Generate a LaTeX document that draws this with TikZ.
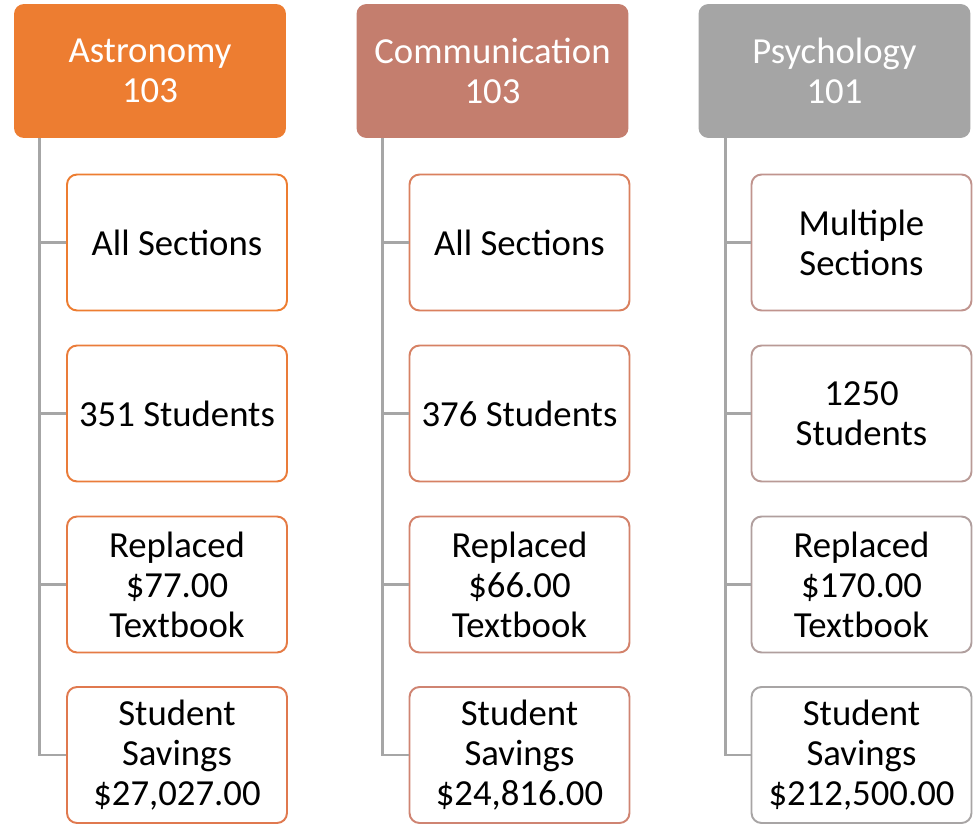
\documentclass[tikz,border=0pt]{standalone}
\usepackage{fontspec}
\setmainfont{Carlito}
\usepackage{tikz}
\usetikzlibrary{positioning, calc}

% header fills and child outlines
\definecolor{astrofill}{HTML}{ED7D31}
\definecolor{commfill}{HTML}{C47E6E}
\definecolor{psychfill}{HTML}{A5A5A5}
\definecolor{linegrey}{HTML}{A6A6A6}
\definecolor{ao1}{HTML}{ED7D31}
\definecolor{ao2}{HTML}{EA7C3A}
\definecolor{ao3}{HTML}{E57B45}
\definecolor{ao4}{HTML}{E0794F}
\definecolor{co1}{HTML}{DA805E}
\definecolor{co2}{HTML}{D68164}
\definecolor{co3}{HTML}{D3826B}
\definecolor{co4}{HTML}{CF8472}
\definecolor{po1}{HTML}{C0948E}
\definecolor{po2}{HTML}{B99A96}
\definecolor{po3}{HTML}{B09F9E}
\definecolor{po4}{HTML}{A8A5A5}

\begin{document}
\begin{tikzpicture}[x=0.02cm, y=-0.02cm,
    font=\fontsize{20.9}{22.8}\selectfont,
    header/.style={rounded corners=0.2cm, text=white, align=center,
        minimum width=5.44cm, minimum height=2.68cm, inner sep=0pt},
    item/.style={draw, line width=1.1pt, rounded corners=0.2cm, fill=white,
        align=center, minimum width=4.4cm, minimum height=2.72cm, inner sep=0pt},
    branch/.style={draw=linegrey, line width=1.6pt}]
    \useasboundingbox (0,0) rectangle (977,824);

    % headers
    \node[header, fill=astrofill] (astro) at (150,71) {Astronomy\\103};
    \node[header, fill=commfill] (comm) at (492.5,71) {Communication\\103};
    \node[header, fill=psychfill] (psych) at (834.5,71) {Psychology\\101};

    % Astronomy column
    \node[item, draw=ao1] (a1) at (177,242.5) {All Sections};
    \node[item, draw=ao2] (a2) at (177,413.5) {351 Students};
    \node[item, draw=ao3] (a3) at (177,584.5) {Replaced\\\$77.00\\Textbook};
    \node[item, draw=ao4] (a4) at (177,755) {Student\\Savings\\\$27,027.00};

    % Communication column
    \node[item, draw=co1] (c1) at (519.5,242.5) {All Sections};
    \node[item, draw=co2] (c2) at (519.5,413.5) {376 Students};
    \node[item, draw=co3] (c3) at (519.5,584.5) {Replaced\\\$66.00\\Textbook};
    \node[item, draw=co4] (c4) at (519.5,755) {Student\\Savings\\\$24,816.00};

    % Psychology column
    \node[item, draw=po1] (p1) at (861.5,242.5) {Multiple\\Sections};
    \node[item, draw=po2] (p2) at (861.5,413.5) {1250\\Students};
    \node[item, draw=po3] (p3) at (861.5,584.5) {Replaced\\\$170.00\\Textbook};
    \node[item, draw=po4] (p4) at (861.5,755) {Student\\Savings\\\$212,500.00};

    % spines
    \coordinate (astrotop) at ($(astro.south west)+(26,0)$);
    \coordinate (commtop) at ($(comm.south west)+(26,0)$);
    \coordinate (psychtop) at ($(psych.south west)+(27,0)$);

    \draw[branch] (astrotop) |- (a4.west);
    \draw[branch] (a1.west) -- (a1.west -| astrotop);
    \draw[branch] (a2.west) -- (a2.west -| astrotop);
    \draw[branch] (a3.west) -- (a3.west -| astrotop);

    \draw[branch] (commtop) |- (c4.west);
    \draw[branch] (c1.west) -- (c1.west -| commtop);
    \draw[branch] (c2.west) -- (c2.west -| commtop);
    \draw[branch] (c3.west) -- (c3.west -| commtop);

    \draw[branch] (psychtop) |- (p4.west);
    \draw[branch] (p1.west) -- (p1.west -| psychtop);
    \draw[branch] (p2.west) -- (p2.west -| psychtop);
    \draw[branch] (p3.west) -- (p3.west -| psychtop);
\end{tikzpicture}
\end{document}
